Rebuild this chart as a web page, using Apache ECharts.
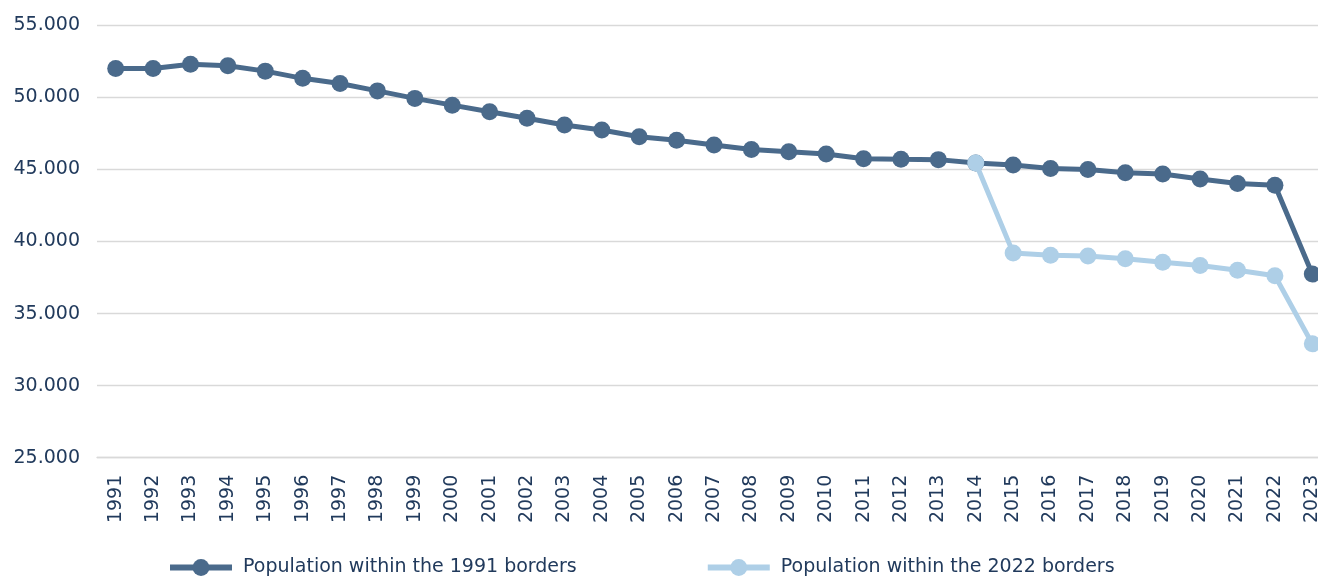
<!DOCTYPE html>
<html>
<head>
<meta charset="utf-8">
<title>Population</title>
<script src="https://cdn.jsdelivr.net/npm/echarts@6/dist/echarts.min.js"></script>
<style>
  html, body { margin: 0; padding: 0; background: #ffffff; }
  #chart { width: 1318px; height: 577px; }
</style>
</head>
<body>
<div id="chart"></div>
<script>
// Years on the category axis
const years = [
  '1991', '1992', '1993', '1994', '1995', '1996', '1997', '1998', '1999', '2000', '2001',
  '2002', '2003', '2004', '2005', '2006', '2007', '2008', '2009', '2010', '2011', '2012',
  '2013', '2014', '2015', '2016', '2017', '2018', '2019', '2020', '2021', '2022', '2023'
];

// Population (thousands) within the 1991 borders
const pop1991Borders = [
  52000, 52000, 52300, 52200, 51820, 51320, 50960, 50450, 49930, 49460, 49000,
  48550, 48080, 47730, 47270, 47020, 46690, 46390, 46230, 46070, 45740, 45700,
  45680, 45450, 45300, 45070, 45000, 44770, 44680, 44330, 44030, 43900, 37740
];

// Population (thousands) within the 2022 borders, from 2014 on
const pop2022Borders = [
  null, null, null, null, null, null, null, null, null, null, null,
  null, null, null, null, null, null, null, null, null, null, null,
  null, 45450, 39210, 39050, 38990, 38800, 38560, 38330, 38000, 37620, 32900
];

// Value axis ticks
const yMin = 25000;
const yMax = 55000;
const yStep = 5000;

const seriesNames = ['Population within the 1991 borders', 'Population within the 2022 borders'];

const textColor = '#213a5c';
const darkBlue = '#4a6a8b';
const lightBlue = '#aecfe7';
const fontFamily = '"DejaVu Sans", sans-serif';

function thousands(v) {
  return String(v).replace(/\B(?=(\d{3})+(?!\d))/g, '.');
}

const chart = echarts.init(document.getElementById('chart'), null, { renderer: 'canvas' });

chart.setOption({
  animation: false,
  backgroundColor: '#ffffff',
  textStyle: { fontFamily: fontFamily, color: textColor },
  grid: {
    left: 97,
    right: -13,
    top: 25.3,
    bottom: 119.3,
    containLabel: false,
    outerBoundsMode: 'none'
  },
  legend: {
    data: seriesNames,
    left: 162,
    top: 553,
    itemWidth: 62,
    itemHeight: 21,
    itemGap: 128,
    lineStyle: { width: 6 },
    textStyle: { fontFamily: fontFamily, fontSize: 19, color: textColor, padding: [0, 0, 0, 6] }
  },
  xAxis: {
    type: 'category',
    data: years,
    boundaryGap: true,
    axisLine: { show: true, lineStyle: { color: '#d9d9d9', width: 1.3 } },
    axisTick: { show: false },
    axisLabel: {
      interval: 0,
      rotate: 90,
      margin: 17,
      fontFamily: fontFamily,
      fontSize: 19,
      color: textColor
    },
    splitLine: { show: false }
  },
  yAxis: {
    type: 'value',
    min: yMin,
    max: yMax,
    interval: yStep,
    axisLine: { show: false },
    axisTick: { show: false },
    axisLabel: {
      margin: 17,
      fontFamily: fontFamily,
      fontSize: 19,
      color: textColor,
      formatter: thousands
    },
    splitLine: { show: true, lineStyle: { color: '#d9d9d9', width: 1.3 } }
  },
  series: [
    {
      name: seriesNames[0],
      type: 'line',
      data: pop1991Borders,
      color: darkBlue,
      symbol: 'circle',
      symbolSize: 17,
      showSymbol: true,
      lineStyle: { width: 5, color: darkBlue },
      itemStyle: { color: darkBlue },
      z: 2
    },
    {
      name: seriesNames[1],
      type: 'line',
      data: pop2022Borders,
      color: lightBlue,
      symbol: 'circle',
      symbolSize: 17,
      showSymbol: true,
      connectNulls: false,
      lineStyle: { width: 5, color: lightBlue },
      itemStyle: { color: lightBlue },
      z: 3
    }
  ]
});
</script>
</body>
</html>
